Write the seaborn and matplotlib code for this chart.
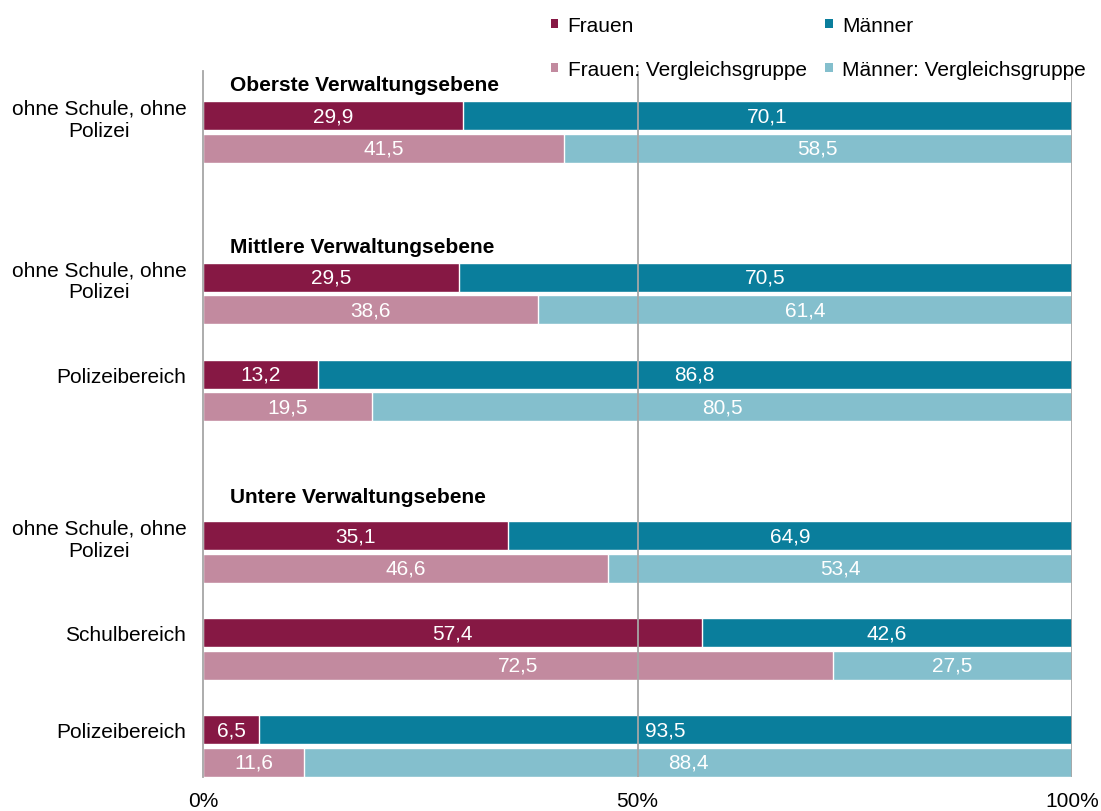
import matplotlib
matplotlib.use("Agg")
import matplotlib.pyplot as plt
from matplotlib.patches import Patch
import pandas as pd
import seaborn as sns

# ---------------------------------------------------------------------------
# Data (percent shares)
# ---------------------------------------------------------------------------
levels = ["Oberste Verwaltungsebene", "Mittlere Verwaltungsebene",
          "Untere Verwaltungsebene"]
row_labels = ["ohne Schule, ohne\nPolizei", "ohne Schule, ohne\nPolizei",
              "Polizeibereich", "ohne Schule, ohne\nPolizei",
              "Schulbereich", "Polizeibereich"]
row_level = [0, 1, 1, 2, 2, 2]
frauen = [29.9, 29.5, 13.2, 35.1, 57.4, 6.5]
maenner = [70.1, 70.5, 86.8, 64.9, 42.6, 93.5]
frauen_vg = [41.5, 38.6, 19.5, 46.6, 72.5, 11.6]
maenner_vg = [58.5, 61.4, 80.5, 53.4, 27.5, 88.4]

series = ["Frauen", "Männer", "Frauen: Vergleichsgruppe",
          "Männer: Vergleichsgruppe"]
palette = {
    "Frauen": "#861844",
    "Männer": "#0a7e9c",
    "Frauen: Vergleichsgruppe": "#c28a9f",
    "Männer: Vergleichsgruppe": "#84bfcd",
}
GRID = "#a6a6a6"
FS = 15

# ---------------------------------------------------------------------------
# Layout: each row has two bars (own group / comparison group);
# a larger gap separates the administrative levels
# ---------------------------------------------------------------------------
row_pos = []
pos = 0
for i, lvl in enumerate(row_level):
    if i > 0:
        pos += 3 if lvl == row_level[i - 1] else 5
    row_pos.append(pos)
header_off = [-0.96, -0.95, -1.21]

back = pd.DataFrame({
    "pos": row_pos + [p + 1 for p in row_pos],
    "value": [f + m for f, m in zip(frauen, maenner)]
             + [f + m for f, m in zip(frauen_vg, maenner_vg)],
    "series": ["Männer"] * len(row_pos)
              + ["Männer: Vergleichsgruppe"] * len(row_pos),
})
front = pd.DataFrame({
    "pos": row_pos + [p + 1 for p in row_pos],
    "value": frauen + frauen_vg,
    "series": ["Frauen"] * len(row_pos)
              + ["Frauen: Vergleichsgruppe"] * len(row_pos),
})

sns.set_style("white")
plt.rcParams["font.family"] = ["Liberation Sans", "DejaVu Sans"]
plt.rcParams["text.color"] = "black"
plt.rcParams["xtick.color"] = "black"
plt.rcParams["ytick.color"] = "black"

fig = plt.figure(figsize=(11.01, 8.12), dpi=100)
ax = fig.add_axes([203 / 1101, 34 / 812, 869 / 1101, 706 / 812])

for df in (back, front):
    sns.barplot(
        data=df, x="value", y="pos", hue="series", palette=palette,
        orient="y", native_scale=True, dodge=False, width=0.9,
        saturation=1, errorbar=None, legend=False, edgecolor="white",
        linewidth=1.0, ax=ax,
    )

# value labels, centred in each segment
for p, f, m, fv, mv in zip(row_pos, frauen, maenner, frauen_vg, maenner_vg):
    for y, a, b in ((p, f, m), (p + 1, fv, mv)):
        ax.text(a / 2, y, f"{a:.1f}".replace(".", ","), color="white",
                fontsize=FS, ha="center", va="center", zorder=6)
        ax.text(a + b / 2, y, f"{b:.1f}".replace(".", ","), color="white",
                fontsize=FS, ha="center", va="center", zorder=6)

# level headers
for i, lvl in enumerate(row_level):
    if i == 0 or lvl != row_level[i - 1]:
        ax.text(3.1, row_pos[i] + header_off[lvl], levels[lvl],
                fontsize=FS, fontweight="bold", ha="left", va="center")

for x in (50, 100):
    ax.axvline(x, color=GRID, linewidth=1.3, zorder=5)

ax.set_xlim(0, 100)
ax.set_ylim(20.46, -1.39)
ax.set_xticks([0, 50, 100])
ax.set_xticklabels(["0%", "50%", "100%"], fontsize=FS)
ax.set_yticks(row_pos)
ax.set_yticklabels(row_labels, fontsize=FS, multialignment="center")
ax.tick_params(axis="y", length=0, pad=12)
ax.tick_params(axis="x", length=0, pad=10)
ax.set_xlabel("")
ax.set_ylabel("")
for s in ("top", "right", "bottom"):
    ax.spines[s].set_visible(False)
ax.spines["left"].set_color(GRID)
ax.spines["left"].set_linewidth(1.3)

# legend: two columns, row-major order Frauen | Männer / VG | VG
order = ["Frauen", "Frauen: Vergleichsgruppe", "Männer",
         "Männer: Vergleichsgruppe"]
handles = [Patch(facecolor=palette[s], edgecolor="none") for s in order]
fig.legend(handles, order, ncol=2, loc="upper left",
           bbox_to_anchor=(551 / 1101, 1 - 17 / 812), frameon=False,
           fontsize=FS, handlelength=0.35, handleheight=0.35,
           handletextpad=0.45, columnspacing=0.9, labelspacing=1.2,
           borderpad=0, borderaxespad=0)

fig.savefig("out.png", dpi=100, facecolor="white")
plt.close(fig)
